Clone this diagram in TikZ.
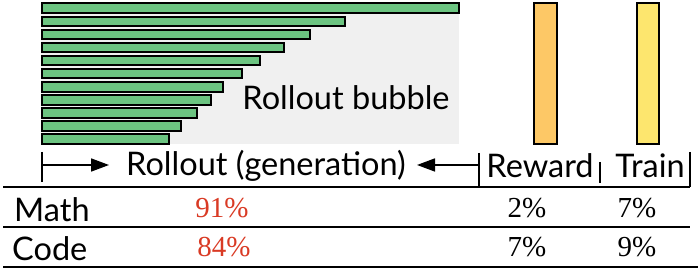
\documentclass[tikz,border=0pt]{standalone}
\usepackage{fontspec}
\setmainfont{Lato}
\newfontfamily\numfont{Liberation Serif}
\usetikzlibrary{arrows.meta}
\definecolor{bargreen}{HTML}{6CC481}
\definecolor{bubblegray}{HTML}{F0F0F0}
\definecolor{rewardorange}{HTML}{FDC866}
\definecolor{trainyellow}{HTML}{FDE66E}
\definecolor{pctred}{HTML}{D93A24}
\tikzset{
  lbl/.style={anchor=base, inner sep=0pt, font=\fontsize{32.5}{36}\selectfont},
  pct/.style={anchor=base, inner sep=0pt, font=\numfont\fontsize{29}{32}\selectfont},
  rule/.style={line width=1.8pt},
  span/.style={line width=1.6pt, -{Triangle[length=18pt,width=13pt]}}
}
\begin{document}
\begin{tikzpicture}[x=1pt, y=1pt]
\useasboundingbox (0,0) rectangle (698,-280);
\def\h{9.5}
% rollout bubble
\fill[bubblegray] (41,-3) rectangle (459,-144);
\foreach \r [count=\i from 0] in {459,345,310,284,260,242,223,211,197,181,169}
  \draw[fill=bargreen, line width=2pt] (42,{-3.5-13.1*\i}) rectangle (\r,{-3.5-13.1*\i-\h});
\node[lbl] (bubble) at (346,-110) {Rollout bubble};
% reward / train stages
\draw[fill=rewardorange, line width=1.6pt] (534,-3) rectangle (557,-144);
\draw[fill=trainyellow, line width=1.6pt] (637,-3) rectangle (659,-144);
% header
\node[lbl] (rollout) at (266,-176) {Rollout (generation)};
\node[lbl] (reward) at (540,-178) {Reward};
\node[lbl] (train) at (650,-178) {Train};
\coordinate (lt) at (42,-165);
\coordinate (rt) at (479,-165);
\coordinate (lh) at (109,-165);
\coordinate (rh) at (417,-165);
\draw[line width=1.6pt] (42,-152) -- (42,-182);
\draw[line width=1.6pt] (479,-153) -- (479,-187);
\draw[line width=1.6pt] (600,-162) -- (600,-183);
\draw[line width=1.6pt] (690,-152) -- (690,-187);
\draw[span] (lt) -- (lh);
\draw[span] (rt) -- (rh);
% table
\draw[rule] (3,-187) -- (690,-187);
\draw[rule] (3,-227) -- (690,-227);
\draw[rule] (3,-267) -- (698,-267);
\node[lbl, anchor=base west] (math) at (14,-222) {Math};
\node[lbl, anchor=base west] (code) at (12,-261) {Code};
\node[pct, text=pctred] (mroll) at (222,-218) {91\%};
\node[pct, text=pctred] (croll) at (224,-257) {84\%};
\node[pct] (mrew) at (527,-218) {2\%};
\node[pct] (crew) at (527,-257) {7\%};
\node[pct] (mtr) at (637,-218) {7\%};
\node[pct] (ctr) at (637,-257) {9\%};
\end{tikzpicture}
\end{document}
